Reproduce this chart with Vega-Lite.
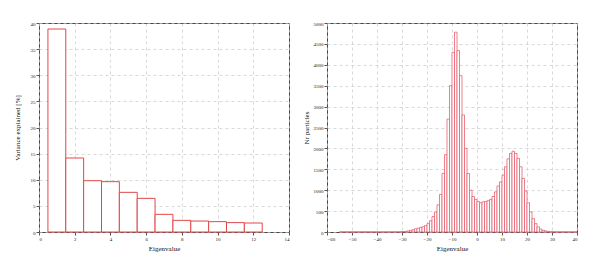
{
  "$schema": "https://vega.github.io/schema/vega-lite/v6.json",
  "padding": {"left": 12, "top": 20, "right": 0, "bottom": 0},
  "background": "white",
  "config": {
    "view": {"stroke": "#444", "strokeWidth": 1},
    "font": "Liberation Serif",
    "axis": {
      "labelFont": "Liberation Serif", "titleFont": "Liberation Serif",
      "labelFontSize": 5, "titleFontSize": 7, "titleFontWeight": "normal",
      "labelColor": "#222", "titleColor": "#111",
      "domain": false, "ticks": true, "tickSize": 3, "tickColor": "#555",
      "labelPadding": 1, "format": "d",
      "grid": true, "gridDash": [3, 3], "gridColor": "#c8c8c8", "gridWidth": 0.7
    }
  },
  "datasets": {
    "pca": [
      {"start": 0.5, "end": 1.5, "v": 38.85},
      {"start": 1.5, "end": 2.5, "v": 14.16},
      {"start": 2.5, "end": 3.5, "v": 9.82},
      {"start": 3.5, "end": 4.5, "v": 9.63},
      {"start": 4.5, "end": 5.5, "v": 7.59},
      {"start": 5.5, "end": 6.5, "v": 6.44},
      {"start": 6.5, "end": 7.5, "v": 3.38},
      {"start": 7.5, "end": 8.5, "v": 2.23},
      {"start": 8.5, "end": 9.5, "v": 2.1},
      {"start": 9.5, "end": 10.5, "v": 1.98},
      {"start": 10.5, "end": 11.5, "v": 1.79},
      {"start": 11.5, "end": 12.5, "v": 1.72}
    ],
    "hist": [
      {"s": -55, "e": -54, "n": 3}, {"s": -54, "e": -53, "n": 3}, {"s": -53, "e": -52, "n": 3}, {"s": -52, "e": -51, "n": 3},
      {"s": -51, "e": -50, "n": 3}, {"s": -50, "e": -49, "n": 3}, {"s": -49, "e": -48, "n": 3}, {"s": -48, "e": -47, "n": 3},
      {"s": -47, "e": -46, "n": 3}, {"s": -46, "e": -45, "n": 3}, {"s": -45, "e": -44, "n": 3}, {"s": -44, "e": -43, "n": 3},
      {"s": -43, "e": -42, "n": 3}, {"s": -42, "e": -41, "n": 3}, {"s": -41, "e": -40, "n": 3}, {"s": -40, "e": -39, "n": 3},
      {"s": -39, "e": -38, "n": 3}, {"s": -38, "e": -37, "n": 3}, {"s": -37, "e": -36, "n": 3}, {"s": -36, "e": -35, "n": 3},
      {"s": -35, "e": -34, "n": 3}, {"s": -34, "e": -33, "n": 3}, {"s": -33, "e": -32, "n": 3},
      {"s": -32, "e": -31, "n": 4}, {"s": -31, "e": -30, "n": 6}, {"s": -30, "e": -29, "n": 10}, {"s": -29, "e": -28, "n": 15},
      {"s": -28, "e": -27, "n": 25}, {"s": -27, "e": -26, "n": 40}, {"s": -26, "e": -25, "n": 55}, {"s": -25, "e": -24, "n": 75},
      {"s": -24, "e": -23, "n": 90}, {"s": -23, "e": -22, "n": 110}, {"s": -22, "e": -21, "n": 125}, {"s": -21, "e": -20, "n": 155},
      {"s": -20, "e": -19, "n": 200}, {"s": -19, "e": -18, "n": 270}, {"s": -18, "e": -17, "n": 370}, {"s": -17, "e": -16, "n": 480},
      {"s": -16, "e": -15, "n": 650}, {"s": -15, "e": -14, "n": 900}, {"s": -14, "e": -13, "n": 1400}, {"s": -13, "e": -12, "n": 1850},
      {"s": -12, "e": -11, "n": 2700}, {"s": -11, "e": -10, "n": 3500}, {"s": -10, "e": -9, "n": 4300}, {"s": -9, "e": -8, "n": 4780},
      {"s": -8, "e": -7, "n": 4340}, {"s": -7, "e": -6, "n": 3740}, {"s": -6, "e": -5, "n": 2800}, {"s": -5, "e": -4, "n": 2000},
      {"s": -4, "e": -3, "n": 1400}, {"s": -3, "e": -2, "n": 1000}, {"s": -2, "e": -1, "n": 850}, {"s": -1, "e": 0, "n": 780},
      {"s": 0, "e": 1, "n": 730}, {"s": 1, "e": 2, "n": 700}, {"s": 2, "e": 3, "n": 720}, {"s": 3, "e": 4, "n": 730},
      {"s": 4, "e": 5, "n": 750}, {"s": 5, "e": 6, "n": 780}, {"s": 6, "e": 7, "n": 850}, {"s": 7, "e": 8, "n": 960},
      {"s": 8, "e": 9, "n": 1100}, {"s": 9, "e": 10, "n": 1200}, {"s": 10, "e": 11, "n": 1360}, {"s": 11, "e": 12, "n": 1560},
      {"s": 12, "e": 13, "n": 1750}, {"s": 13, "e": 14, "n": 1880}, {"s": 14, "e": 15, "n": 1930}, {"s": 15, "e": 16, "n": 1880},
      {"s": 16, "e": 17, "n": 1760}, {"s": 17, "e": 18, "n": 1560}, {"s": 18, "e": 19, "n": 1280}, {"s": 19, "e": 20, "n": 980},
      {"s": 20, "e": 21, "n": 700}, {"s": 21, "e": 22, "n": 480}, {"s": 22, "e": 23, "n": 320}, {"s": 23, "e": 24, "n": 200},
      {"s": 24, "e": 25, "n": 120}, {"s": 25, "e": 26, "n": 70}, {"s": 26, "e": 27, "n": 40}, {"s": 27, "e": 28, "n": 25},
      {"s": 28, "e": 29, "n": 15}, {"s": 29, "e": 30, "n": 8}, {"s": 30, "e": 31, "n": 5}, {"s": 31, "e": 32, "n": 3},
      {"s": 32, "e": 33, "n": 3}, {"s": 33, "e": 34, "n": 3}, {"s": 34, "e": 35, "n": 3}, {"s": 35, "e": 36, "n": 3},
      {"s": 36, "e": 37, "n": 3}, {"s": 37, "e": 38, "n": 3}, {"s": 38, "e": 39, "n": 3}, {"s": 39, "e": 40, "n": 3}
    ]
  },
  "spacing": 11,
  "hconcat": [
    {
      "width": 250, "height": 209,
      "data": {"name": "pca"},
      "mark": {"type": "rect", "fill": "white", "stroke": "#e04848", "strokeWidth": 1},
      "encoding": {
        "x": {"field": "start", "type": "quantitative", "scale": {"domain": [0, 14], "nice": false},
              "axis": {"title": "Eigenvalue", "values": [0, 2, 4, 6, 8, 10, 12, 14], "titlePadding": 3}},
        "x2": {"field": "end"},
        "y": {"field": "v", "type": "quantitative", "scale": {"domain": [0, 40], "nice": false},
              "axis": {"title": "Variance explained [%]", "values": [0, 5, 10, 15, 20, 25, 30, 35, 40], "titlePadding": 10}},
        "y2": {"datum": 0}
      }
    },
    {
      "width": 250, "height": 209,
      "data": {"name": "hist"},
      "mark": {"type": "rect", "fill": "white", "stroke": "#e86070", "strokeWidth": 0.8},
      "encoding": {
        "x": {"field": "s", "type": "quantitative", "scale": {"domain": [-60, 40], "nice": false},
              "axis": {"title": "Eigenvalue", "values": [-60, -50, -40, -30, -20, -10, 0, 10, 20, 30, 40], "titlePadding": 3}},
        "x2": {"field": "e"},
        "y": {"field": "n", "type": "quantitative", "scale": {"domain": [0, 5000], "nice": false},
              "axis": {"title": "Nr particles", "values": [0, 500, 1000, 1500, 2000, 2500, 3000, 3500, 4000, 4500, 5000], "titlePadding": 4}},
        "y2": {"datum": 0}
      }
    }
  ]
}
